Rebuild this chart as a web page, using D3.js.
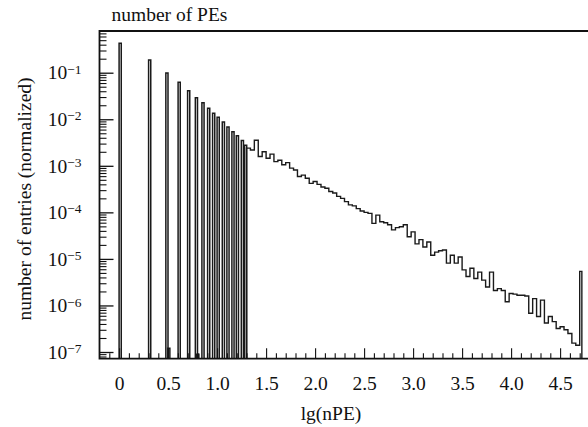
<!DOCTYPE html>
<html lang="en">
<head>
<meta charset="UTF-8">
<title>number of PEs</title>
<script src="https://d3js.org/d3.v7.min.js"></script>
<style>
  body { margin: 0; background: #fff; }
  text { font-family: "Liberation Serif", "Times New Roman", serif; fill: #111; }
</style>
</head>
<body>
<svg id="chart" width="588" height="427"></svg>
<script>
// isolated single-PE peaks (lg of bin left edge) and their normalized heights
const peakLg = [0, 0.301, 0.477, 0.496, 0.602, 0.699, 0.778, 0.792, 0.845, 0.903, 0.954, 1.0,
                1.053, 1.100, 1.151, 1.196, 1.247, 1.280];
const peakVal = [0.43, 0.187, 0.0985, 1.2e-7, 0.062, 0.041, 0.029, 9e-8, 0.0227, 0.0172, 0.0134, 0.011,
                 8.7e-3, 6.8e-3, 5.4e-3, 4.4e-3, 3.5e-3, 2.75e-3];

// continuous part of the spectrum, fixed bins starting at tailStart
const tailStart = 1.30;
const tailBin = 0.04;
const tailVal = [
  2.40e-3, 2.19e-3, 3.55e-3, 1.58e-3, 2.00e-3, 1.45e-3, 1.78e-3, 1.23e-3, 1.32e-3, 1.05e-3,
  1.17e-3, 8.9e-4, 8.1e-4, 5.9e-4, 6.3e-4, 5.4e-4, 4.2e-4, 4.6e-4, 4.0e-4, 3.5e-4,
  3.3e-4, 2.8e-4, 2.6e-4, 2.2e-4, 2.0e-4, 1.7e-4, 1.45e-4, 1.38e-4, 1.20e-4, 1.07e-4,
  1.00e-4, 9.5e-5, 5.8e-5, 8.7e-5, 6.3e-5, 6.0e-5, 5.4e-5, 4.2e-5, 4.7e-5, 4.9e-5,
  5.4e-5, 3.0e-5, 3.8e-5, 2.1e-5, 2.6e-5, 1.8e-5, 2.3e-5, 1.2e-5, 1.4e-5, 1.5e-5,
  1.55e-5, 8.1e-6, 1.2e-5, 8.1e-6, 1.1e-5, 5.8e-6, 4.2e-6, 6.3e-6, 3.8e-6, 5.2e-6,
  3.5e-6, 2.5e-6, 5.2e-6, 2.1e-6, 2.3e-6, 2.1e-6, 1.2e-6, 1.8e-6, 1.75e-6, 1.66e-6,
  1.66e-6, 1.6e-6, 6.8e-7, 1.4e-6, 5.8e-7, 1.3e-6, 4.2e-7, 5.8e-7, 4.5e-7, 3.2e-7,
  3.5e-7, 3.0e-7, 2.5e-7, 1.55e-7, 1.4e-7
];

// saturation bin at the end
const spikeLg = 4.70;
const spikeVal = 5.4e-6;

const xTickLabels = ["0", "0.5", "1.0", "1.5", "2.0", "2.5", "3.0", "3.5", "4.0", "4.5"];
const yExponents = [-1, -2, -3, -4, -5, -6, -7];

const svg = d3.select("#chart");
const plotL = 99.5, plotT = 31, plotB = 358.7, plotR = 589.5;
const fs = "19.5px";

const x = d3.scaleLinear().domain([-0.2, 4.8]).range([plotL, plotR]);
const y = d3.scaleLog().domain([7.18e-8, 0.787]).range([plotB, plotT]);

const peakW = 0.022;

// peaks as narrow outlined bins
const pk = d3.path();
peakLg.forEach((v, i) => {
  pk.moveTo(x(v), plotB);
  pk.lineTo(x(v), y(peakVal[i]));
  pk.lineTo(x(v + peakW), y(peakVal[i]));
  pk.lineTo(x(v + peakW), plotB);
});
svg.append("path")
  .attr("d", pk.toString())
  .attr("fill", "none")
  .attr("stroke", "#1a1a1a")
  .attr("stroke-width", 1.5);

// step outline for the tail + spike
const tp = d3.path();
tp.moveTo(x(tailStart), plotB);
tailVal.forEach((v, k) => {
  tp.lineTo(x(tailStart + k * tailBin), y(v));
  tp.lineTo(x(tailStart + (k + 1) * tailBin), y(v));
});
tp.lineTo(x(spikeLg), y(spikeVal));
tp.lineTo(x(spikeLg + peakW), y(spikeVal));
tp.lineTo(x(spikeLg + peakW), plotB);
svg.append("path")
  .attr("d", tp.toString())
  .attr("fill", "none")
  .attr("stroke", "#1a1a1a")
  .attr("stroke-width", 1.4)
  .attr("stroke-linejoin", "miter");

// X axis: minor ticks every 0.1, major every 0.5, pointing up
const xMinor = d3.range(-1, 48).map(i => i / 10).filter(v => Math.abs(v * 2 - Math.round(v * 2)) > 1e-6);
svg.append("g")
  .attr("transform", `translate(0,${plotB})`)
  .call(d3.axisBottom(x).tickValues(xMinor).tickSize(-5.5).tickFormat(""))
  .call(g => g.select(".domain").remove())
  .call(g => g.selectAll("line").attr("stroke", "#111").attr("stroke-width", 1.1));

svg.append("g")
  .attr("transform", `translate(0,${plotB})`)
  .call(d3.axisBottom(x).tickValues(xTickLabels.map(Number)).tickSize(-10.5).tickPadding(17)
    .tickFormat((d, i) => xTickLabels[i]))
  .call(g => g.select(".domain").remove())
  .call(g => g.selectAll("line").attr("stroke", "#111").attr("stroke-width", 1.1))
  .call(g => g.selectAll("text").attr("font-size", fs).attr("font-family", null).attr("fill", "#111"));

// Y axis: log minor ticks + decade ticks with 10^n labels
const yMinor = y.ticks().filter(v => Math.abs(Math.log10(v) - Math.round(Math.log10(v))) > 1e-6);
svg.append("g")
  .attr("transform", `translate(${plotL},0)`)
  .call(d3.axisLeft(y).tickValues(yMinor).tickSize(-7).tickFormat(""))
  .call(g => g.select(".domain").remove())
  .call(g => g.selectAll("line").attr("stroke", "#111").attr("stroke-width", 1.1));

const yMajor = svg.append("g")
  .attr("transform", `translate(${plotL},0)`)
  .call(d3.axisLeft(y).tickValues(yExponents.map(e => Math.pow(10, e))).tickSize(-14).tickPadding(18)
    .tickFormat(""))
  .call(g => g.select(".domain").remove())
  .call(g => g.selectAll("line").attr("stroke", "#111").attr("stroke-width", 1.3));

yMajor.selectAll(".tick text").each(function(d, i) {
  const t = d3.select(this).attr("font-size", fs).attr("font-family", null).attr("fill", "#111");
  t.append("tspan").text("10");
  t.append("tspan").attr("dy", "-0.42em").attr("font-size", "13.5px").text("\u2212" + Math.abs(yExponents[i]));
});

// frame
svg.append("path")
  .attr("d", `M${plotR},${plotT}H${plotL}V${plotB}H${plotR}`)
  .attr("fill", "none")
  .attr("stroke", "#111")
  .attr("stroke-width", 1.8);

// titles
svg.append("text")
  .attr("x", 111.5)
  .attr("y", 20.5)
  .attr("font-size", fs)
  .text("number of PEs");

svg.append("text")
  .attr("x", 331)
  .attr("y", 420)
  .attr("text-anchor", "middle")
  .attr("font-size", fs)
  .text("lg(nPE)");

svg.append("text")
  .attr("transform", "rotate(-90)")
  .attr("x", -199)
  .attr("y", 31)
  .attr("text-anchor", "middle")
  .attr("font-size", fs)
  .text("number of entries (normalized)");
</script>
</body>
</html>
